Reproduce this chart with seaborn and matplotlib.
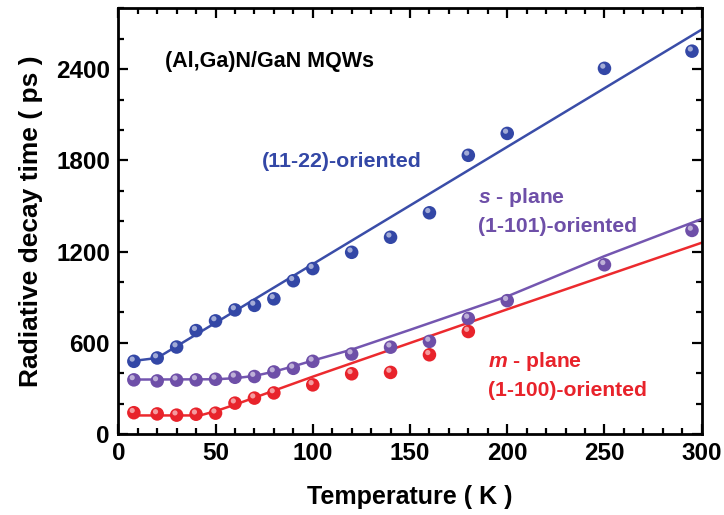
import numpy as np
import pandas as pd
import matplotlib
matplotlib.use("Agg")
import matplotlib.pyplot as plt
import matplotlib.transforms as mtransforms
import seaborn as sns

# Measured radiative decay times (ps)
temp_a = [8, 20, 30, 40, 50, 60, 70, 80, 90, 100, 120, 140, 160, 180, 200, 250, 295]
tau_1122 = [478, 500, 572, 680, 744, 816, 846, 889, 1008, 1088, 1195, 1294, 1455, 1833, 1977, 2405, 2518]
tau_1101 = [356, 349, 354, 356, 360, 373, 378, 408, 432, 478, 526, 571, 609, 760, 877, 1113, 1339]

temp_m = [8, 20, 30, 40, 50, 60, 70, 80, 100, 120, 140, 160, 180]
tau_1100 = [140, 132, 124, 130, 137, 203, 236, 270, 323, 396, 405, 521, 674]

# Model fit curves (knots)
fit_T_1122 = [8, 20, 300]
fit_tau_1122 = [481, 500, 2660]
fit_T_1101 = [8, 50, 60, 70, 80, 90, 100, 120, 150, 200, 250, 300]
fit_tau_1101 = [358, 360, 367, 382, 410, 445, 483, 555, 685, 905, 1170, 1414]
fit_T_1100 = [8, 42, 50, 60, 100, 200, 300]
fit_tau_1100 = [122, 122, 150, 193, 377, 820, 1258]

blue = "#3347A6"
purple = "#6E4FA8"
red = "#E8232B"
line_blue = "#3A4DA8"
line_purple = "#7456B0"
line_red = "#EC2A2E"

sns.set_style("ticks")
plt.rcParams["font.family"] = ["Liberation Sans", "DejaVu Sans"]
plt.rcParams["font.weight"] = "bold"
plt.rcParams["text.color"] = "black"
plt.rcParams["axes.labelcolor"] = "black"
plt.rcParams["xtick.color"] = "black"
plt.rcParams["ytick.color"] = "black"
plt.rcParams["mathtext.fontset"] = "custom"
plt.rcParams["mathtext.it"] = "Liberation Sans:italic:bold"
plt.rcParams["mathtext.rm"] = "Liberation Sans:bold"

fig = plt.figure(figsize=(7.24, 5.15), dpi=100)
ax = fig.add_axes([0.1634, 0.1573, 0.8058, 0.8266])

fits = [
    (fit_T_1122, fit_tau_1122, line_blue),
    (fit_T_1101, fit_tau_1101, line_purple),
    (fit_T_1100, fit_tau_1100, line_red),
]
for tx, ty, c in fits:
    sns.lineplot(x=tx, y=ty, ax=ax, color=c, linewidth=1.8, sort=False)

series = [
    (temp_a, tau_1122, blue),
    (temp_a, tau_1101, purple),
    (temp_m, tau_1100, red),
]
hl = mtransforms.offset_copy(ax.transData, fig=fig, x=-1.2, y=1.6, units="points")
for tx, ty, c in series:
    sns.scatterplot(x=tx, y=ty, ax=ax, color=c, s=95, edgecolor="none", zorder=4)
    # specular highlight on each sphere
    ax.scatter(tx, ty, s=14, color="white", alpha=0.55, edgecolor="none",
               transform=hl, zorder=5)

ax.set_xlim(0, 300)
ax.set_ylim(0, 2800)
ax.set_xticks([0, 50, 100, 150, 200, 250, 300])
ax.set_xticks(np.arange(0, 301, 10), minor=True)
ax.set_yticks([0, 600, 1200, 1800, 2400])
ax.set_yticks(np.arange(0, 2801, 200), minor=True)

ax.tick_params(which="both", direction="in", top=True, right=True,
               width=1.6, colors="black", labelcolor="black")
ax.tick_params(which="major", length=7, labelsize=17.5, pad=6)
ax.tick_params(which="minor", length=4)
for lab in ax.get_xticklabels() + ax.get_yticklabels():
    lab.set_fontweight("bold")
for sp in ax.spines.values():
    sp.set_linewidth(2.0)
    sp.set_color("black")

ax.set_xlabel("Temperature ( K )", fontsize=18, fontweight="bold", labelpad=14,
              color="black")
ax.set_ylabel("Radiative decay time ( ps )", fontsize=19, fontweight="bold", labelpad=9,
              color="black")

ax.text(24, 2450, "(Al,Ga)N/GaN MQWs", fontsize=15.5, fontweight="bold",
        color="black", va="center", ha="left")
ax.text(74, 1791, "(11-22)-oriented", fontsize=15.4, fontweight="bold",
        color=blue, va="center", ha="left")
ax.text(185, 1554, "$s$ - plane", fontsize=15.2, fontweight="bold",
        color=purple, va="center", ha="left")
ax.text(185, 1363, "(1-101)-oriented", fontsize=15.2, fontweight="bold",
        color=purple, va="center", ha="left")
ax.text(190, 474, "$m$ - plane", fontsize=15.2, fontweight="bold",
        color=red, va="center", ha="left")
ax.text(190, 283, "(1-100)-oriented", fontsize=15.2, fontweight="bold",
        color=red, va="center", ha="left")

fig.savefig("out.png", dpi=100)
